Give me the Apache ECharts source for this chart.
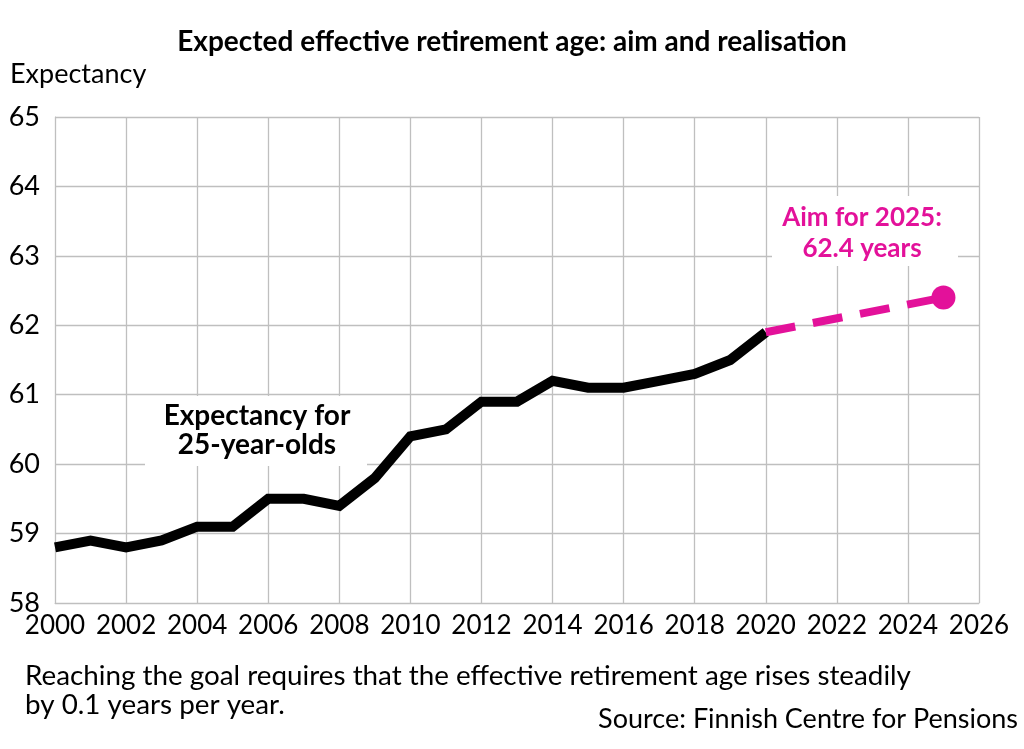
<!DOCTYPE html>
<html><head><meta charset="utf-8">
<script src="https://cdn.jsdelivr.net/npm/echarts@6/dist/echarts.min.js"></script>
<style>html,body{margin:0;padding:0;background:#fff}#c{width:1024px;height:749px}</style>
</head><body><div id="c"></div>
<script>
const years = [2000,2001,2002,2003,2004,2005,2006,2007,2008,2009,2010,2011,2012,2013,2014,2015,2016,2017,2018,2019,2020];
const expectancy = [58.8,58.9,58.8,58.9,59.1,59.1,59.5,59.5,59.4,59.8,60.4,60.5,60.9,60.9,61.2,61.1,61.1,61.2,61.3,61.5,61.9];
const aimYears = [2020,2025];
const aimValues = [61.9,62.4];

const FONT = 'Lato, "Open Sans", sans-serif';
const PINK = '#E3119A';
const chart = echarts.init(document.getElementById('c'));
chart.setOption({
  animation:false,
  backgroundColor:'#fff',
  grid:{left:55,right:45,top:117,bottom:146},
  title:{text:'Expected effective retirement age: aim and realisation',left:'center',top:23,
    textStyle:{fontFamily:FONT,fontSize:28,fontWeight:'bold',color:'#000'}},
  xAxis:{type:'value',min:2000,max:2026,interval:2,
    axisLine:{show:true,lineStyle:{color:'#BFBFBF',width:1}},
    axisTick:{show:false},
    axisLabel:{fontFamily:FONT,fontSize:26,color:'#000',margin:10,formatter:v=>String(v)},
    splitLine:{show:true,lineStyle:{color:'#BFBFBF',width:1.3}}},
  yAxis:{type:'value',min:58,max:65,interval:1,
    axisLine:{show:true,lineStyle:{color:'#BFBFBF',width:1}},
    axisTick:{show:false},
    axisLabel:{fontFamily:FONT,fontSize:27,color:'#000',margin:15},
    splitLine:{show:true,lineStyle:{color:'#BFBFBF',width:1.3}}},
  series:[
    {type:'line',data:years.map((y,i)=>[y,expectancy[i]]),showSymbol:false,symbol:'none',
      lineStyle:{color:'#000',width:10,join:'miter'},z:3},
    {type:'line',data:aimYears.map((y,i)=>[y,aimValues[i]]),symbol:'circle',
      symbolSize:(v,p)=>p.dataIndex===aimYears.length-1?24:0,
      itemStyle:{color:PINK},
      lineStyle:{color:PINK,width:8,type:[30,18]},z:4}
  ],
  graphic:[
    {type:'text',left:10,top:61,style:{text:'Expectancy',font:'27px '+FONT,fill:'#000'}},
    {type:'rect',shape:{x:145,y:396,width:222,height:70},style:{fill:'#fff'},z:10},
    {type:'text',x:257,y:430,z:11,style:{text:'Expectancy for\n25-year-olds',font:'bold 28px '+FONT,fill:'#000',
      align:'center',verticalAlign:'middle',lineHeight:29}},
    {type:'rect',shape:{x:772,y:196,width:186,height:70},style:{fill:'#fff'},z:10},
    {type:'text',x:862,y:233,z:11,style:{text:'Aim for 2025:\n62.4 years',font:'bold 26px '+FONT,fill:PINK,
      align:'center',verticalAlign:'middle',lineHeight:31}},
    {type:'text',left:25,top:662,style:{text:'Reaching the goal requires that the effective retirement age rises steadily\nby 0.1 years per year.',
      font:'27.8px '+FONT,fill:'#000',lineHeight:29}},
    {type:'text',right:6,top:706,style:{text:'Source: Finnish Centre for Pensions',font:'27px '+FONT,fill:'#000'}}
  ]
});
</script></body></html>
